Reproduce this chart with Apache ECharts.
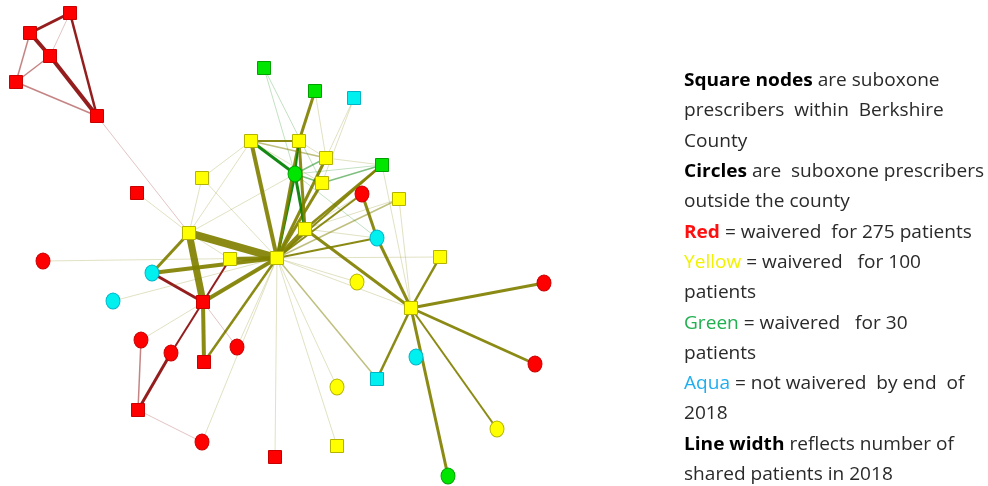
<!DOCTYPE html>
<html>
<head>
<meta charset="utf-8">
<script src="https://cdn.jsdelivr.net/npm/echarts@6/dist/echarts.min.js"></script>
<style>
  html, body { margin: 0; padding: 0; background: #fff; }
  #chart { width: 988px; height: 486px; }
</style>
</head>
<body>
<div id="chart"></div>
<script>
// prescribers: position, shape and waiver group
var nodeX = [70, 30, 50, 16, 97, 137, 202, 189, 230, 277, 251, 299, 326, 322, 305, 399, 440, 411, 337,
  264, 315, 382, 295, 448, 354, 377, 152, 113, 377, 416, 43, 362, 544, 535, 141, 171, 237, 202,
  203, 204, 138, 275, 357, 337, 497];
var nodeY = [13, 33, 56, 82, 116, 193, 178, 233, 259, 258, 141, 141, 158, 183, 229, 199, 257, 308, 446,
  68, 91, 165, 174, 476, 98, 379, 273, 301, 238, 357, 261, 194, 283, 364, 340, 353, 347, 442,
  302, 362, 410, 457, 282, 387, 429];
var nodeShape = ["sq", "sq", "sq", "sq", "sq", "sq", "sq", "sq", "sq", "sq", "sq", "sq", "sq", "sq", "sq", "sq", "sq", "sq", "sq",
  "sq", "sq", "sq", "ci", "ci", "sq", "sq", "ci", "ci", "ci", "ci", "ci", "ci", "ci", "ci", "ci", "ci", "ci", "ci",
  "sq", "sq", "sq", "sq", "ci", "ci", "ci"];
var nodeGroup = ["red", "red", "red", "red", "red", "red", "yellow", "yellow", "yellow", "yellow", "yellow", "yellow", "yellow", "yellow", "yellow", "yellow", "yellow", "yellow", "yellow",
  "green", "green", "green", "green", "green", "aqua", "aqua", "aqua", "aqua", "aqua", "aqua", "red", "red", "red", "red", "red", "red", "red", "red",
  "red", "red", "red", "red", "yellow", "yellow", "yellow"];

// shared patients: source, target, weight, line family
var linkSource = [0, 1, 2, 0, 1, 2, 3, 0, 4, 5,
  6, 6, 6,
  7, 7, 7, 7, 7, 7,
  26, 26, 8, 8, 38, 38, 39,
  35, 35, 34, 40, 37, 36, 34, 27, 30, 36,
  9, 9, 9, 9, 9, 9, 9, 9, 9, 9, 9,
  9, 9, 9, 9, 9, 9,
  14, 14, 14, 14, 14, 14, 21,
  22, 22, 22, 22, 22, 22, 22,
  10, 10, 10, 11, 11, 12, 12, 13, 19, 24, 24,
  31, 28,
  17, 17, 17, 17, 17, 17, 17, 21];
var linkTarget = [1, 2, 4, 4, 3, 3, 4, 2, 7, 7,
  7, 9, 10,
  9, 26, 38, 10, 22, 8,
  9, 38, 9, 38, 9, 39, 9,
  38, 40, 40, 37, 9, 38, 9, 9, 9, 9,
  41, 18, 43, 25, 17, 42, 16, 28, 15, 31, 21,
  10, 22, 14, 11, 12, 13,
  17, 22, 11, 31, 15, 28, 14,
  10, 12, 13, 21, 19, 11, 28,
  11, 12, 13, 20, 12, 21, 20, 21, 13, 12, 13,
  28, 17,
  16, 32, 33, 44, 23, 25, 15, 17];
var linkWeight = [3, 4, 4, 2.5, 1.5, 1.5, 1.5, 1, 1, 1,
  1, 1, 1,
  8, 3, 7, 1, 1, 1,
  4, 3, 4, 2, 4, 4, 2.5,
  2, 3, 1.5, 1, 1, 1, 1, 1, 1, 1,
  1, 1, 1, 1.5, 1, 1, 1, 2, 1.5, 2, 2,
  4, 3, 4, 3, 3, 3,
  3, 3, 3, 1, 1, 1, 2.5,
  3, 1.5, 1.5, 1, 1, 2, 1,
  2, 1.5, 1, 3, 1, 1, 1, 1.5, 1, 1, 1,
  3, 3,
  2.5, 3, 2.5, 2, 3, 2.5, 1, 1];
var linkKind = ["r", "r", "r", "r", "r", "r", "r", "r", "r", "o",
  "o", "o", "o",
  "o", "o", "o", "o", "o", "o",
  "o", "r", "o", "r", "o", "o", "o",
  "r", "r", "r", "r", "o", "r", "o", "o", "o", "o",
  "o", "o", "o", "o", "o", "o", "o", "o", "o", "o", "o",
  "o", "g", "o", "o", "o", "o",
  "o", "g", "o", "o", "o", "o", "o",
  "g", "g", "g", "g", "g", "g", "g",
  "o", "o", "o", "o", "o", "o", "o", "g", "g", "o", "o",
  "o", "o",
  "o", "o", "o", "o", "o", "o", "o", "o"];

// legend text, one entry per line
var noteLines = [
  "{b|Square nodes} are suboxone",
  "prescribers  within  Berkshire",
  "County",
  "{b|Circles} are  suboxone prescribers",
  "outside the county",
  "{red|Red} = waivered  for 275 patients",
  "{yellow|Yellow} = waivered   for 100",
  "patients",
  "{green|Green} = waivered   for 30",
  "patients",
  "{aqua|Aqua} = not waivered  by end  of",
  "2018",
  "{b|Line width} reflects number of",
  "shared patients in 2018"
];

var fill = { red: "#ff0000", yellow: "#ffff00", green: "#00e600", aqua: "#00f0f0" };
var edge = { red: "#c80000", yellow: "#b4b400", green: "#00a000", aqua: "#00b4c8" };
var lineCol = { o: "128,128,0", r: "139,10,10", g: "0,128,0" };

var nodes = nodeX.map(function (x, i) {
  var g = nodeGroup[i];
  return {
    value: [x, nodeY[i]],
    symbol: nodeShape[i] === "sq" ? "rect" : "circle",
    symbolSize: nodeShape[i] === "sq" ? [13, 13] : [14, 16],
    itemStyle: { color: fill[g], borderColor: edge[g], borderWidth: 1 }
  };
});

var links = linkSource.map(function (s, i) {
  var w = linkWeight[i];
  var a = w <= 1 ? 0.24 : (w <= 1.5 ? 0.5 : 0.92);
  return {
    source: s,
    target: linkTarget[i],
    lineStyle: { width: w, opacity: 1, color: "rgba(" + lineCol[linkKind[i]] + "," + a + ")" }
  };
});

var fs = 18;
var chart = echarts.init(document.getElementById("chart"));
chart.setOption({
  animation: false,
  backgroundColor: "#fff",
  grid: { left: 0, right: 0, top: 0, bottom: 0 },
  xAxis: { type: "value", min: 0, max: 988, show: false },
  yAxis: { type: "value", min: 0, max: 486, inverse: true, show: false },
  graphic: noteLines.map(function (t, i) {
    return {
      type: "text",
      x: 684,
      y: 81 + i * 30.3,
      scaleX: 1.06,
      style: {
        text: t,
        verticalAlign: "middle",
        fontFamily: "Open Sans",
        fontSize: fs,
        fill: "#2a2a2a",
        rich: {
          b: { fontFamily: "Open Sans", fontSize: fs, fontWeight: "bold", fill: "#000" },
          red: { fontFamily: "Open Sans", fontSize: fs, fontWeight: "bold", fill: "#ff1010" },
          yellow: { fontFamily: "Open Sans", fontSize: fs, fill: "#f2f200" },
          green: { fontFamily: "Open Sans", fontSize: fs, fill: "#20b050" },
          aqua: { fontFamily: "Open Sans", fontSize: fs, fill: "#20aef0" }
        }
      }
    };
  }),
  series: [{
    type: "graph",
    coordinateSystem: "cartesian2d",
    layout: "none",
    data: nodes,
    links: links,
    label: { show: false },
    lineStyle: { curveness: 0, opacity: 1 }
  }]
});
</script>
</body>
</html>
